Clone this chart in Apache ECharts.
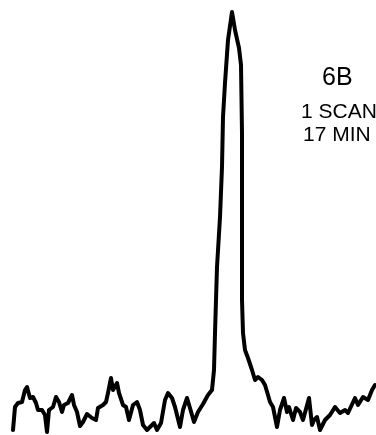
<!DOCTYPE html>
<html>
<head>
<meta charset="utf-8">
<script src="https://cdn.jsdelivr.net/npm/echarts@6/dist/echarts.min.js"></script>
<style>
	html, body { margin: 0; padding: 0; background: #fff; }
	#chart { width: 376px; height: 435px; }
</style>
</head>
<body>
<div id="chart"></div>
<script>
// channel positions of the trace
const channels = [
	13, 15, 18, 22, 25, 27, 30, 33, 36, 38,
	42, 45, 47, 49, 53, 56, 59, 62, 64, 68,
	72, 74, 77, 80, 83, 87, 92, 96, 98, 103,
	106, 108, 111, 113, 117, 119, 123, 126, 129, 133,
	137, 140, 143, 147, 150, 154, 157, 161, 165, 168,
	172, 175, 180, 183, 187, 190, 194, 198, 203, 208,
	212, 214, 215, 217, 220, 222, 223, 225, 228, 232,
	235, 239, 241, 242, 242, 242, 243, 245, 248, 252,
	255, 258, 262, 265, 268, 270, 273, 277, 280, 284,
	287, 289, 293, 296, 300, 303, 309, 312, 314, 317,
	320, 325, 330, 335, 340, 345, 348, 355, 358, 363,
	368, 372, 375
];

// signal height at each channel
const signal = [
	5, 28, 32, 33, 45, 48, 37, 38, 32, 25,
	25, 20, 3, 25, 28, 38, 33, 23, 30, 32,
	40, 30, 23, 9, 13, 21, 17, 15, 27, 30,
	33, 42, 57, 45, 52, 42, 30, 28, 15, 30,
	33, 25, 10, 5, 8, 12, 5, 12, 35, 42,
	37, 28, 8, 25, 37, 27, 13, 23, 31, 40,
	45, 65, 102, 168, 218, 268, 318, 352, 395, 423,
	405, 387, 370, 302, 202, 135, 102, 85, 77, 65,
	55, 58, 55, 50, 40, 33, 28, 8, 25, 37,
	23, 28, 15, 27, 23, 15, 37, 10, 15, 18,
	5, 15, 20, 28, 22, 25, 22, 37, 30, 38,
	35, 45, 50
];

// annotation lines
const labels = ['6B', '1 SCAN', '17 MIN'];

const chart = echarts.init(document.getElementById('chart'));

const points = channels.map((c, i) => [c, signal[i]]);

chart.setOption({
	backgroundColor: '#fff',
	animation: false,
	grid: { left: 0, right: 0, top: 0, bottom: 0 },
	xAxis: { type: 'value', min: 0, max: 376, show: false },
	yAxis: { type: 'value', min: 0, max: 435, show: false },
	series: [{
		type: 'line',
		data: points,
		showSymbol: false,
		smooth: false,
		lineStyle: { color: '#000', width: 4, join: 'round', cap: 'round' }
	}],
	graphic: [
		{
			type: 'text', left: 322, top: 66,
			style: { text: labels[0], font: '25px "Liberation Sans", Arial, sans-serif', fill: '#000' }
		},
		{
			type: 'text', left: 301, top: 102,
			style: { text: labels[1], font: '21px "Liberation Sans", Arial, sans-serif', fill: '#000' }
		},
		{
			type: 'text', left: 303, top: 125,
			style: { text: labels[2], font: '21px "Liberation Sans", Arial, sans-serif', fill: '#000' }
		}
	]
});
</script>
</body>
</html>
